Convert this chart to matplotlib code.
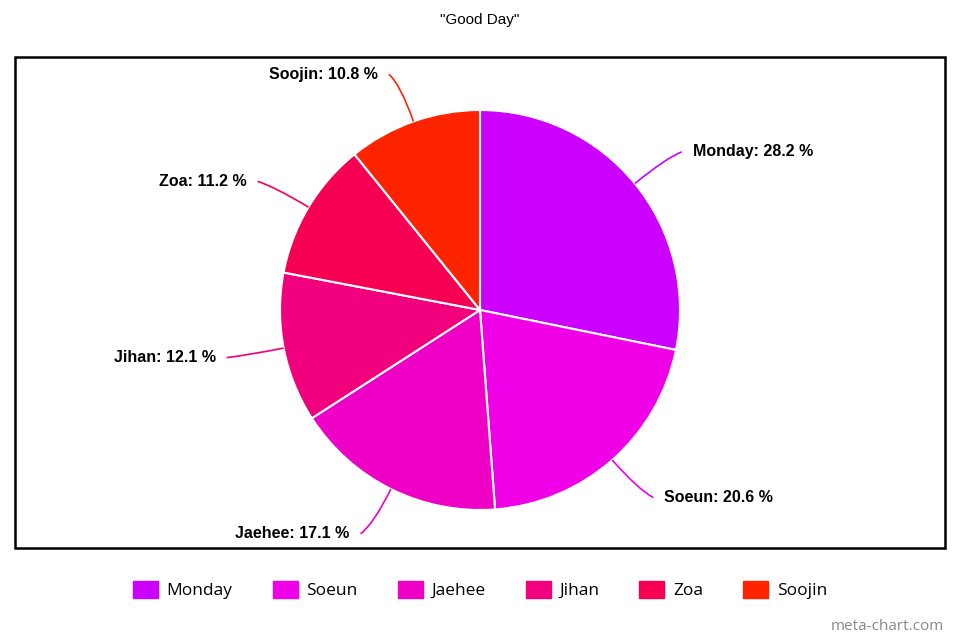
import matplotlib.pyplot as plt
import numpy as np
from matplotlib.path import Path
from matplotlib.patches import PathPatch, Rectangle, Patch

# data
names = ['Monday', 'Soeun', 'Jaehee', 'Jihan', 'Zoa', 'Soojin']
shares = [28.2, 20.6, 17.1, 12.1, 11.2, 10.8]
colors = ['#cc00ff', '#f000e6', '#ee00c4', '#f0007c', '#f50052', '#ff2400']

W, H = 960, 640
fig = plt.figure(figsize=(9.6, 6.4), dpi=100)
ax = fig.add_axes([0, 0, 1, 1])

cx, cy, R = 480, H - 310, 200
wedges, _ = ax.pie(shares, colors=colors, startangle=90, counterclock=False,
                   radius=R, center=(cx, cy),
                   wedgeprops=dict(edgecolor='white', linewidth=1.5))

ax.set_xlim(0, W)
ax.set_ylim(0, H)
ax.set_aspect('equal')
ax.axis('off')

# chart frame
ax.add_patch(Rectangle((15, H - 548), 930, 491, fill=False,
                       edgecolor='black', linewidth=1.8, zorder=0))

# curved leader lines + labels
for w, name, val, col in zip(wedges, names, shares, colors):
    a = np.deg2rad((w.theta1 + w.theta2) / 2)
    c, s = np.cos(a), np.sin(a)
    side = 1 if c >= 0 else -1
    p0 = (cx + R * c, cy + R * s)
    ctrl = (cx + 1.2 * R * c, cy + 1.2 * R * s)
    end = (cx + 1.25 * R * c + side * 8, cy + 1.25 * R * s)
    path = Path([p0, ctrl, end], [Path.MOVETO, Path.CURVE3, Path.CURVE3])
    ax.add_patch(PathPatch(path, fill=False, edgecolor=col, linewidth=1.2))
    ax.text(end[0] + side * 11, end[1], f'{name}: {val} %',
            ha='left' if side > 0 else 'right', va='center',
            fontsize=11.5, fontweight='bold', family='Liberation Sans')

fig.text(0.5, 1 - 20 / H, '"Good Day"', ha='center', va='center',
         fontsize=11, family='Liberation Sans')

handles = [Patch(facecolor=col, edgecolor=col) for col in colors]
fig.legend(handles, names, loc='center', bbox_to_anchor=(0.5, 1 - 590 / H),
           ncol=6, frameon=False, prop={'family': 'Open Sans', 'size': 12.5},
           handlelength=1.45, handleheight=1.1, handletextpad=0.5,
           columnspacing=2.3)

fig.text(944 / W, 1 - 627 / H, 'meta-chart.com', ha='right', va='center',
         fontsize=11, color='#888888', family='Open Sans')

plt.savefig('out.png', dpi=100)
